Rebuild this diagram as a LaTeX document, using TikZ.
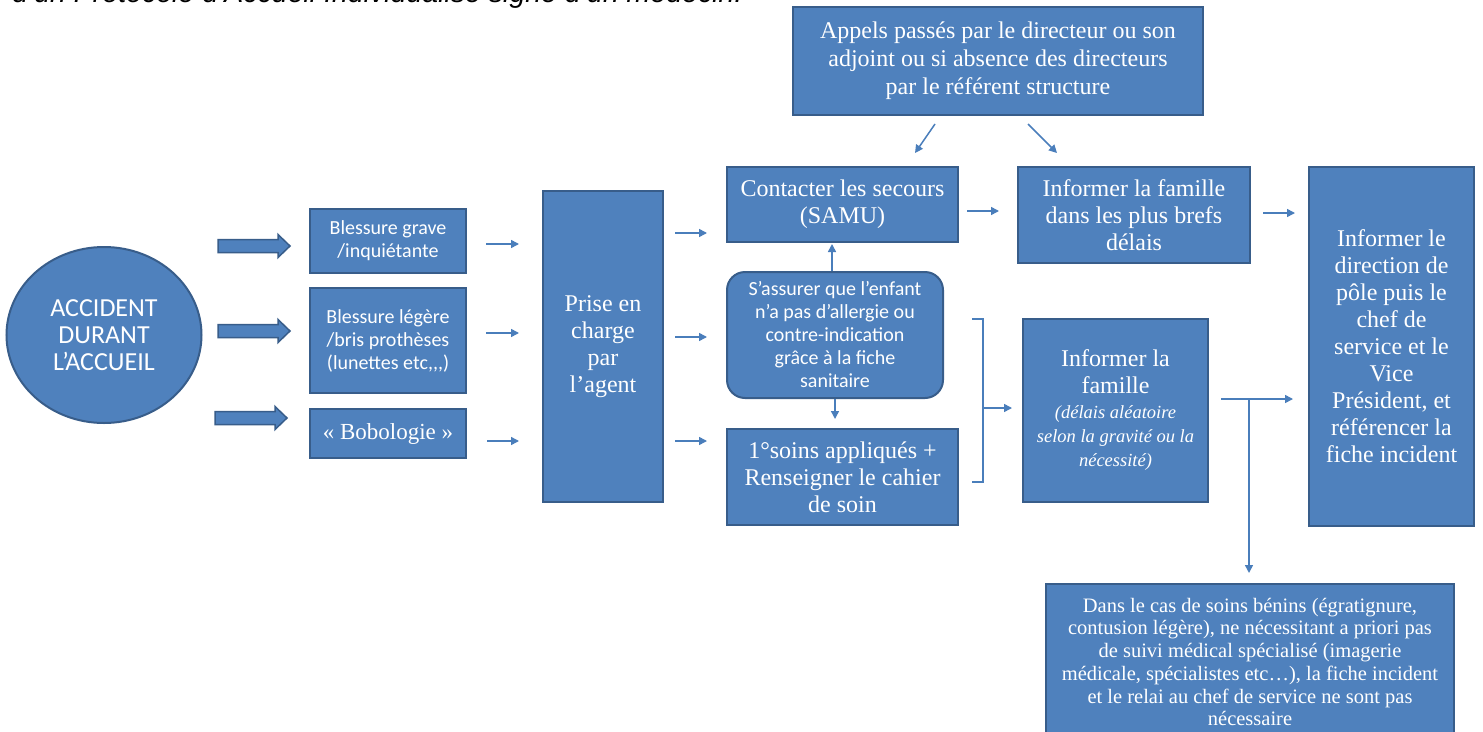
\documentclass[tikz,border=0pt]{standalone}
\usepackage{fontspec}
\setmainfont{Liberation Serif}
\newfontfamily\calib{Carlito}
\newfontfamily\arialf{Liberation Sans}
\usetikzlibrary{shapes.geometric,arrows.meta,calc}
\definecolor{boxfill}{HTML}{4F81BD}
\definecolor{boxline}{HTML}{385D8A}
\definecolor{arrline}{HTML}{4A7EBB}
\tikzset{
  box/.style={draw=boxline, line width=2pt, fill=boxfill, text=white, align=center, inner sep=0pt},
  serifA/.style={font=\fontsize{24}{27}\selectfont},
  sansA/.style={font=\calib\fontsize{20}{23}\selectfont},
  arr/.style={draw=arrline, line width=1.5pt, -{Triangle[length=8pt,width=8pt]}},
  plain/.style={draw=arrline, line width=1.5pt},
  fat/.style={draw=boxline, line width=1.5pt, fill=boxfill}
}
\newcommand\smallit{\itshape\fontsize{18.5}{23}\selectfont}
\newcommand\fatarrow[3]{%
  \filldraw[fat] (#1,#3-6.5) -- (#2-12,#3-6.5) -- (#2-12,#3-11.5) -- (#2,#3) -- (#2-12,#3+11.5) -- (#2-12,#3+6.5) -- (#1,#3+6.5) -- cycle;}
\begin{document}
\begin{tikzpicture}[x=1pt,y=-1pt]
\clip (0,0) rectangle (1483,731);
\fill[white] (0,0) rectangle (1483,731);

% cut-off line of text at the top
\node[anchor=base west, inner sep=0pt, font=\arialf\itshape\fontsize{28.5}{32}\selectfont] (title) at (12,2) {d’un Protocole d’Accueil Individualisé signé d’un médecin.};

% nodes
\node[box, ellipse, minimum width=195, minimum height=176, font=\calib\fontsize{26}{27}\selectfont] (acc) at (104,335) {ACCIDENT\\DURANT\\L’ACCUEIL};

\node[box, sansA, minimum width=156, minimum height=64] (grave) at (388,241) {Blessure grave\\/inquiétante};
\node[box, sansA, minimum width=156, minimum height=105] (legere) at (388,340.5) {Blessure légère\\/bris prothèses\\(lunettes etc,,,)};
\node[box, font=\fontsize{23}{27}\selectfont, minimum width=156, minimum height=49] (bobo) at (388,433.5) {« Bobologie »};

\node[box, serifA, minimum width=120, minimum height=311] (prise) at (603,346.5) {Prise en\\charge\\par\\l’agent};

\node[box, serifA, minimum width=231, minimum height=75] (contact) at (842.5,204.5) {Contacter les secours\\(SAMU)};
\node[box, sansA, rounded corners=18pt, minimum width=216, minimum height=126] (assurer) at (835,335) {S’assurer que l’enfant\\n’a pas d’allergie ou\\contre-indication\\grâce à la fiche\\sanitaire};
\node[box, serifA, minimum width=231, minimum height=96] (soins) at (842.5,477) {1°soins appliqués +\\Renseigner le cahier\\de soin};

\node[box, font=\fontsize{24}{28}\selectfont, minimum width=410, minimum height=108] (appels) at (998,61) {Appels passés par le directeur ou son\\adjoint ou si absence des directeurs\\par le référent structure};

\node[box, serifA, minimum width=232, minimum height=96] (fam1) at (1134,215) {Informer la famille\\dans les plus brefs\\délais};
\node[box, serifA, minimum width=185, minimum height=183] (fam2) at (1115.5,410.5) {Informer la\\famille\\[-2pt]\smallit (délais aléatoire\\[-3pt]\smallit selon la gravité ou la\\[-3pt]\smallit nécessité)};

\node[box, serifA, minimum width=165, minimum height=359] (dir) at (1391.5,346.5) {Informer le\\direction de\\pôle puis le\\chef de\\service et le\\Vice\\Président, et\\référencer la\\fiche incident};

\node[box, font=\fontsize{20.5}{22.7}\selectfont, minimum width=408, minimum height=156] (benin) at (1250,662) {Dans le cas de soins bénins (égratignure,\\contusion légère), ne nécessitant a priori pas\\de suivi médical spécialisé (imagerie\\médicale, spécialistes etc…), la fiche incident\\et le relai au chef de service ne sont pas\\nécessaire};

% fat arrows from the accident
\fatarrow{218}{290}{246}
\fatarrow{218}{290}{331}
\fatarrow{215}{287}{418}

% thin arrows
\draw[arr] ($(grave.east)+(19,3)$) -- ++(33,0);
\draw[arr] ($(legere.east)+(19,-7.5)$) -- ++(33,0);
\draw[arr] ($(bobo.east)+(20,7.5)$) -- ++(32,0);

\draw[arr] ($(prise.east)+(11,-113.5)$) -- ++(32,0);
\draw[arr] ($(prise.east)+(11,-9.5)$) -- ++(32,0);
\draw[arr] ($(prise.east)+(11,94.5)$) -- ++(32,0);

\draw[arr] ($(assurer.north)+(-3,0)$) -- ++(0,-27);
\draw[arr] (assurer.south) -- ++(0,20);

\draw[arr] ($(appels.south)+(-63,8)$) -- ($(appels.south)+(-83,37)$);
\draw[arr] ($(appels.south)+(30,8)$) -- ($(appels.south)+(59,37)$);

\draw[arr] ($(contact.east)+(8,6.5)$) -- ++(32,0);
\draw[arr] ($(fam1.east)+(12,-2)$) -- ++(32,0);

% bracket gathering the two lower boxes
\coordinate (bt) at (972,319);
\coordinate (bb) at (972,482);
\coordinate (bm) at (983,408);
\draw[plain] (bt) -- ++(11,0) -- ($(bb)+(11,0)$) -- (bb);
\draw[arr] (bm) -- ($(fam2.west |- bm)+(-10,0)$);

% from the lower family box
\coordinate (fo) at ($(fam2.east)+(12,-11.5)$);
\coordinate (fj) at ($(fo)+(28,0)$);
\draw[arr] (fo) -- ($(dir.west |- fo)+(-15,0)$);
\draw[arr] (fj) -- ($(fj |- benin.north)+(0,-10)$);
\end{tikzpicture}
\end{document}
